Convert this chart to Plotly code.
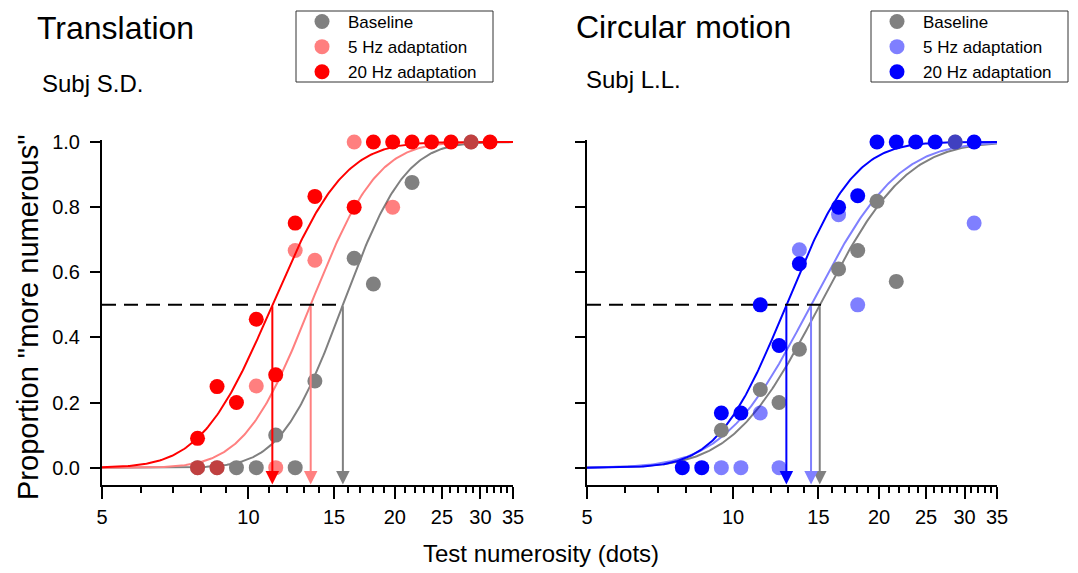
import math
import numpy as np
import plotly.graph_objects as go

# ---------------- data ----------------
# Translation, subject S.D.
tr_base_x = [7.86, 8.62, 9.45, 10.38, 11.38, 12.48, 13.7, 16.5, 18.07, 21.7, 28.7]
tr_base_y = [0.0, 0.0, 0.0, 0.0, 0.10, 0.0, 0.266, 0.643, 0.564, 0.876, 1.0]
tr_5hz_x = [7.86, 8.62, 10.38, 11.38, 12.48, 13.7, 16.5, 19.8, 28.7]
tr_5hz_y = [0.0, 0.0, 0.251, 0.0, 0.667, 0.637, 1.0, 0.80, 1.0]
tr_20hz_x = [7.86, 8.62, 9.45, 10.38, 11.38, 12.48, 13.7, 16.5, 18.07, 19.8, 21.7, 23.8, 26.1, 31.4]
tr_20hz_y = [0.09, 0.249, 0.20, 0.456, 0.285, 0.751, 0.833, 0.80, 1.0, 1.0, 1.0, 1.0, 1.0, 1.0]

# Circular motion, subject L.L.
cm_base_x = [9.46, 11.38, 12.44, 13.7, 16.5, 18.07, 19.8, 21.7, 28.7]
cm_base_y = [0.115, 0.24, 0.20, 0.364, 0.61, 0.667, 0.818, 0.572, 1.0]
cm_5hz_x = [9.46, 10.38, 11.38, 12.44, 13.7, 16.5, 18.07, 28.7, 31.4]
cm_5hz_y = [0.0, 0.0, 0.168, 0.0, 0.669, 0.777, 0.50, 1.0, 0.751]
cm_20hz_x = [7.86, 8.62, 9.46, 10.38, 11.38, 12.44, 13.7, 16.5, 18.07, 19.8, 21.7, 23.8, 26.1, 31.4]
cm_20hz_y = [0.0, 0.0, 0.168, 0.168, 0.50, 0.375, 0.626, 0.80, 0.835, 1.0, 1.0, 1.0, 1.0, 1.0]

# fitted psychometric parameters (PSE in dots, sigma in log10 units)
tr_pse = {"base": 15.64, "5hz": 13.43, "20hz": 11.2}
tr_sigma = {"base": 0.10, "5hz": 0.107, "20hz": 0.115}
cm_pse = {"base": 15.09, "5hz": 14.48, "20hz": 12.88}
cm_sigma = {"base": 0.14, "5hz": 0.14, "20hz": 0.11}
tr_dash_end = 15.64
cm_dash_end = 15.69

x_tickvals = [5, 10, 15, 20, 25, 30, 35]
x_minor = [6, 7, 8, 9, 11, 12, 13, 14, 16, 17, 18, 19, 21, 22, 23, 24, 26, 27, 28, 29, 31, 32, 33, 34]
y_tickvals = [0.0, 0.2, 0.4, 0.6, 0.8, 1.0]
y_ticktext = ["0.0", "0.2", "0.4", "0.6", "0.8", "1.0"]
legend_names = ["Baseline", "5 Hz adaptation", "20 Hz adaptation"]

# ---------------- style ----------------
FONT = "Liberation Sans, Arial, sans-serif"
GRAY = "#808080"
RED = "#FF0000"
RED_T = "rgba(255,0,0,0.5)"
PINK = "#FF8080"
BLUE = "#0000FF"
BLUE_T = "rgba(0,0,255,0.5)"
LBLUE = "#8080FF"

# page has an 8px body margin; figure is sized so that it fits the window
OFF = 8
W, H = 1078 - OFF, 573 - OFF


def fx(px):
    return (px - OFF) / W


def fy(py):
    return 1 - (py - OFF) / H


def cum_gauss(xs, pse, sigma):
    mu = math.log10(pse)
    return [0.5 * (1 + math.erf((math.log10(v) - mu) / (sigma * math.sqrt(2)))) for v in xs]


xs = np.geomspace(5, 35, 300)

fig = go.Figure()


def add_panel(xa, ya, legend, pse, sigma, dash_end, cols, pcols, data):
    for key, c in zip(["base", "5hz", "20hz"], cols):
        fig.add_trace(go.Scatter(x=xs, y=cum_gauss(xs, pse[key], sigma[key]), mode="lines",
                                 line=dict(color=c, width=2), showlegend=False,
                                 xaxis=xa, yaxis=ya, hoverinfo="skip"))
    fig.add_trace(go.Scatter(x=[5, dash_end], y=[0.5, 0.5], mode="lines",
                             line=dict(color="black", width=2, dash="14px,8px"),
                             showlegend=False, xaxis=xa, yaxis=ya, hoverinfo="skip"))
    for (px, py), pc, name in zip(data, pcols, legend_names):
        fig.add_trace(go.Scatter(x=px, y=py, mode="markers", name=name,
                                 marker=dict(color=pc, size=15, line=dict(width=0)),
                                 cliponaxis=False, legend=legend, xaxis=xa, yaxis=ya))


add_panel("x", "y", "legend", tr_pse, tr_sigma, tr_dash_end, [GRAY, PINK, RED], [GRAY, RED_T, RED],
          [(tr_base_x, tr_base_y), (tr_5hz_x, tr_5hz_y), (tr_20hz_x, tr_20hz_y)])
add_panel("x2", "y2", "legend2", cm_pse, cm_sigma, cm_dash_end, [GRAY, LBLUE, BLUE], [GRAY, BLUE_T, BLUE],
          [(cm_base_x, cm_base_y), (cm_5hz_x, cm_5hz_y), (cm_20hz_x, cm_20hz_y)])

YMIN, YMAX = -0.052, 1.005

for xr, yr, pse, cols in [("x", "y", tr_pse, [GRAY, PINK, RED]), ("x2", "y2", cm_pse, [GRAY, LBLUE, BLUE])]:
    for key, c in zip(["base", "5hz", "20hz"], cols):
        lx = math.log10(pse[key])
        fig.add_annotation(x=lx, y=YMIN, ax=lx, ay=0.5, xref=xr, yref=yr, axref=xr, ayref=yr,
                           showarrow=True, arrowhead=2, arrowsize=1.35, arrowwidth=2,
                           arrowcolor=c, standoff=0, startstandoff=0, text="")

axis_common = dict(showline=True, linecolor="black", linewidth=2, ticks="outside",
                   tickcolor="black", tickwidth=2, showgrid=False, zeroline=False, automargin=False,
                   tickfont=dict(family=FONT, size=20, color="black"))

xaxis_common = dict(axis_common, type="log", range=[math.log10(5), math.log10(35)],
                    tickvals=x_tickvals, ticktext=[str(v) for v in x_tickvals], ticklen=12,
                    ticklabelstandoff=1,
                    minor=dict(tickvals=x_minor, ticklen=6, tickwidth=2, tickcolor="black", ticks="outside"))
yaxis_common = dict(axis_common, range=[YMIN, YMAX], tickvals=y_tickvals, ticktext=y_ticktext,
                    ticklen=10, ticklabelstandoff=6)

legend_common = dict(y=fy(4), xanchor="left", yanchor="top",
                     borderwidth=0, bgcolor="rgba(0,0,0,0)",
                     font=dict(family=FONT, size=17, color="black"), itemwidth=42, tracegroupgap=0)

ydom = [fy(484.6), fy(140.4)]
fig.update_layout(
    width=W, height=H, autosize=False,
    margin=dict(l=0, r=0, t=0, b=0, pad=0, autoexpand=False),
    paper_bgcolor="white", plot_bgcolor="white",
    font=dict(family=FONT, color="black"),
    xaxis=dict(xaxis_common, domain=[fx(102), fx(513)], anchor="y"),
    yaxis=dict(yaxis_common, domain=ydom, anchor="x"),
    xaxis2=dict(xaxis_common, domain=[fx(587), fx(997)], anchor="y2"),
    yaxis2=dict(yaxis_common, domain=ydom, anchor="x2", showticklabels=False),
    legend=dict(legend_common, x=fx(296)),
    legend2=dict(legend_common, x=fx(871)),
    showlegend=True,
)

# legend frames
for x0, x1 in [(296, 493), (871, 1068)]:
    fig.add_shape(type="rect", xref="paper", yref="paper", x0=fx(x0), x1=fx(x1), y0=fy(82), y1=fy(11),
                  line=dict(color="#333", width=1), fillcolor="rgba(0,0,0,0)", layer="below")

texts = [
    dict(text="Translation", x=35, y=28, size=32, xanchor="left"),
    dict(text="Subj S.D.", x=40, y=84, size=24, xanchor="left"),
    dict(text="Circular motion", x=574, y=27, size=32, xanchor="left"),
    dict(text="Subj L.L.", x=584, y=79, size=24, xanchor="left"),
    dict(text="Test numerosity (dots)", x=541, y=553, size=24, xanchor="center"),
]
for t in texts:
    fig.add_annotation(text=t["text"], x=fx(t["x"]), y=fy(t["y"]), xref="paper", yref="paper",
                       xanchor=t["xanchor"], yanchor="middle", showarrow=False,
                       font=dict(family=FONT, size=t["size"], color="black"))
fig.add_annotation(text='Proportion "more numerous"', x=fx(28), y=fy(317), xref="paper",
                   yref="paper", xanchor="center", yanchor="middle", showarrow=False, textangle=-90,
                   font=dict(family=FONT, size=29, color="black"))

fig.write_html("out.html")
